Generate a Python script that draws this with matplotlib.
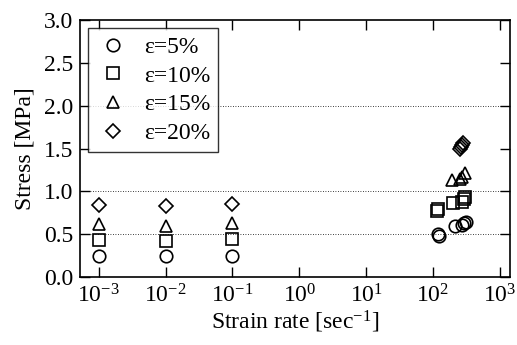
import numpy as np
import matplotlib
matplotlib.use("Agg")
import matplotlib.pyplot as plt
from matplotlib.ticker import FixedLocator, NullLocator

plt.rcParams['font.family'] = ['Liberation Serif', 'DejaVu Serif']
plt.rcParams['mathtext.fontset'] = 'custom'
plt.rcParams['mathtext.rm'] = 'Liberation Serif'
plt.rcParams['mathtext.it'] = 'Liberation Serif:italic'

# quasi-static rates
rate_low = [1e-3, 1e-2, 1e-1]
s5_low = [0.25, 0.24, 0.25]
s10_low = [0.43, 0.42, 0.44]
s15_low = [0.62, 0.60, 0.63]
s20_low = [0.84, 0.83, 0.85]

# dynamic rates (separate measurements)
rate5_hi = [123, 120, 213, 270, 290, 310]
s5_hi = [0.48, 0.50, 0.59, 0.61, 0.63, 0.64]
rate10_hi = [115, 118, 200, 270, 290, 300]
s10_hi = [0.77, 0.79, 0.86, 0.88, 0.91, 0.93]
rate15_hi = [190, 250, 275, 300]
s15_hi = [1.13, 1.15, 1.17, 1.21]
rate20_hi = [250, 260, 270, 280]
s20_hi = [1.50, 1.52, 1.54, 1.56]

labels = ['ε=5%', 'ε=10%', 'ε=15%', 'ε=20%']
markers = ['o', 's', '^', 'D']
msizes = [9, 8.5, 9, 7]

x_ticks = [1e-3, 1e-2, 1e-1, 1e0, 1e1, 1e2, 1e3]
x_ticklabels = ['$10^{-3}$', '$10^{-2}$', '$10^{-1}$', '$10^{0}$',
                '$10^{1}$', '$10^{2}$', '$10^{3}$']
y_ticks = [0.0, 0.5, 1.0, 1.5, 2.0, 2.5, 3.0]

fig = plt.figure(figsize=(5.17, 3.45), dpi=100)
ax = fig.add_axes([0.155, 0.197, 0.831, 0.745])

series = [(s5_low, rate5_hi, s5_hi), (s10_low, rate10_hi, s10_hi),
          (s15_low, rate15_hi, s15_hi), (s20_low, rate20_hi, s20_hi)]
for (lo, rh, sh), m, ms, lab in zip(series, markers, msizes, labels):
    ax.plot(rate_low + rh, lo + sh, linestyle='none', marker=m, ms=ms,
            mfc='none', mec='black', mew=1.2, label=lab)

for yv in [0.5, 1.0, 2.0]:
    ax.axhline(yv, color='black', ls=(0, (1, 2)), lw=0.6, zorder=0)

ax.set_xscale('log')
ax.set_xlim(10**-3.28, 10**3.15)
ax.set_ylim(0, 3.0)
ax.xaxis.set_major_locator(FixedLocator(x_ticks))
ax.xaxis.set_minor_locator(NullLocator())
ax.set_xticklabels(x_ticklabels)
ax.yaxis.set_major_locator(FixedLocator(y_ticks))
ax.set_yticklabels(['%.1f' % v for v in y_ticks])
ax.tick_params(direction='in', top=True, right=True, length=7, width=1,
               labelsize=17, pad=5)
for s in ax.spines.values():
    s.set_linewidth(1.2)

ax.set_xlabel('Strain rate [sec$^{-1}$]', fontsize=17, labelpad=1)
ax.set_ylabel('Stress [MPa]', fontsize=17, labelpad=6)

leg = ax.legend(loc='upper left', fontsize=17, frameon=True, fancybox=False,
                edgecolor='black', handlelength=1.4, handletextpad=0.6,
                borderaxespad=0.35, labelspacing=0.3, borderpad=0.35)
leg.get_frame().set_linewidth(1.0)

fig.savefig('out.png', dpi=100)
